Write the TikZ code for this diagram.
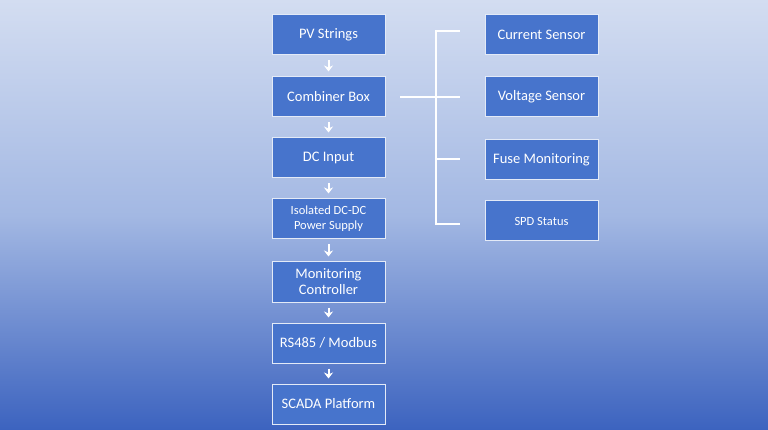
\documentclass[tikz,border=0pt]{standalone}
\usepackage{fontspec}
\setmainfont{Carlito}
\usetikzlibrary{arrows.meta}
\definecolor{boxblue}{HTML}{4774CC}
\definecolor{bgtop}{HTML}{D3DDF1}
\definecolor{bgmid}{HTML}{A3B8E3}
\definecolor{bgbot}{HTML}{3C63BF}
\begin{document}
\begin{tikzpicture}[x=1pt,y=-1pt,
  box/.style={draw=white!85!boxblue,line width=1pt,fill=boxblue,text=white,minimum width=113pt,minimum height=40pt,inner sep=1pt,font=\fontsize{14.5}{16}\selectfont,align=center},
  small/.style={font=\fontsize{12.5}{15}\selectfont},
  arr/.style={draw=white,line width=2pt,-{Stealth[length=6pt,width=9pt]}},
  br/.style={draw=white,line width=1.8pt}]
\shade[top color=bgtop,bottom color=bgmid] (0,0) rectangle (768,215);
\shade[top color=bgmid,bottom color=bgbot] (0,215) rectangle (768,430);
\useasboundingbox (0,0) rectangle (768,430);
\node[box] (pv) at (328.5,35) {PV Strings};
\node[box] (cb) at (328.5,97) {Combiner Box};
\node[box] (dc) at (328.5,158) {DC Input};
\node[box,small] (iso) at (328.5,219) {Isolated DC-DC\\Power Supply};
\node[box] (mc) at (328.5,282) {Monitoring\\Controller};
\node[box] (rs) at (328.5,343) {RS485 / Modbus};
\node[box] (sc) at (328.5,404) {SCADA Platform};
\node[box] (cs) at (541.5,35) {Current Sensor};
\node[box] (vs) at (541.5,97) {Voltage Sensor};
\node[box] (fm) at (541.5,160) {Fuse Monitoring};
\node[box,small] (spd) at (541.5,221) {SPD Status};
\foreach \a/\b in {pv/cb,cb/dc,dc/iso,iso/mc,mc/rs,rs/sc}
  \draw[arr] ([yshift=-5pt]\a.south) -- ([yshift=5pt]\b.north);
\coordinate (c0) at (400,97);
\coordinate (t1) at (436,31);
\coordinate (t4) at (436,224);
\coordinate (e1) at (460,31);
\coordinate (e2) at (460,97);
\coordinate (e3) at (460,159);
\coordinate (e4) at (460,224);
\draw[br] (e1) -- (t1) -- (t4) -- (e4);
\draw[br] (c0) -- (e2);
\draw[br] (436,159) -- (e3);
\end{tikzpicture}
\end{document}
